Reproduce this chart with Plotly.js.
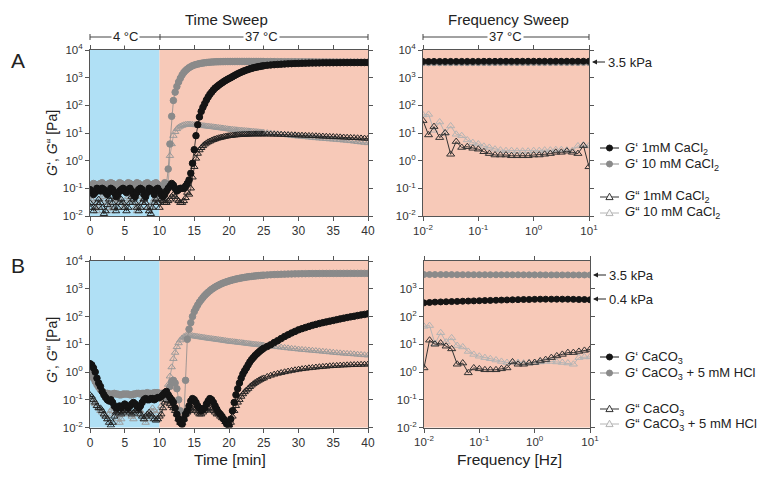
<!DOCTYPE html>
<html><head><meta charset="utf-8">
<script src="https://cdn.plot.ly/plotly-3.0.1.min.js"></script>
<style>html,body{margin:0;padding:0;background:#fff}#chart{width:771px;height:481px}</style>
</head><body><div id="chart"></div>
<script>
// ---------- DATA ----------
const timeMin = [0,0.25,0.5,0.75,1,1.25,1.5,1.75,2,2.25,2.5,2.75,3,3.25,3.5,3.75,4,4.25,4.5,4.75,5,5.25,5.5,5.75,6,6.25,6.5,6.75,7,7.25,7.5,7.75,8,8.25,8.5,8.75,9,9.25,9.5,9.75,10,
10.25,10.5,10.75,11,11.25,11.5,11.75,12,12.25,12.5,12.75,13,13.25,13.5,13.75,14,14.25,14.5,14.75,15,15.25,15.5,15.75,16,16.25,16.5,16.75,17,17.25,17.5,17.75,18,18.25,18.5,18.75,19,19.25,19.5,19.75,20,
20.25,20.5,20.75,21,21.25,21.5,21.75,22,22.25,22.5,22.75,23,23.25,23.5,23.75,24,24.25,24.5,24.75,25,
25.5,26,26.5,27,27.5,28,28.5,29,29.5,30,30.5,31,31.5,32,32.5,33,33.5,34,34.5,35,35.5,36,36.5,37,37.5,38,38.5,39,39.5,40];

// Panel A, time sweep
const A_Gp_1mM = [0.09,0.08,0.06,0.07,0.10,0.09,0.08,0.10,0.09,0.07, 0.06,0.08,0.10,0.09,0.07,0.05,0.06,0.08,0.09,0.10, 0.08,0.07,0.09,0.10,0.08,0.06,0.05,0.07,0.09,0.10, 0.09,0.06,0.05,0.07,0.10,0.09,0.08,0.06,0.09,0.10, 0.08,
0.06,0.05,0.06,0.08,0.10,0.12,0.15,0.13,0.10,0.08, 0.09,0.10,0.10,0.10,0.12,0.15,0.20,0.35,0.8,2.5, 8,20,38,60,85,115,155,200,250,300, 360,420,470,530,590,650,720,790,860,930,
1000,1090,1180,1280,1380,1480,1580,1680,1780,1880, 1980,2080,2170,2260,2340,2420,2490,2560,2630,2700,
2800,2880,2950,3010,3070,3120,3170,3210,3250,3280, 3310,3340,3360,3380,3400,3420,3440,3450,3460,3470, 3480,3490,3500,3500,3510,3510,3520,3520,3530,3530];
const A_Gp_10mM = [0.12,0.13,0.15,0.14,0.12,0.13,0.15,0.16,0.14,0.12, 0.13,0.15,0.16,0.15,0.13,0.12,0.14,0.16,0.15,0.13, 0.12,0.14,0.16,0.15,0.13,0.12,0.14,0.16,0.15,0.13, 0.12,0.13,0.15,0.16,0.14,0.12,0.13,0.15,0.16,0.14, 0.12,
0.10,0.12,0.16,0.14,0.5,4,40,150,300,480, 700,950,1250,1550,1800,2050,2300,2500,2700,2850, 2980,3100,3200,3300,3380,3450,3520,3580,3630,3670, 3700,3730,3750,3770,3790,3800,3810,3820,3830,3830,
3840,3840,3840,3850,3850,3850,3850,3850,3850,3850, 3850,3850,3840,3840,3840,3840,3830,3830,3830,3830,
3820,3820,3810,3800,3800,3790,3780,3780,3770,3760, 3750,3740,3740,3730,3720,3710,3700,3700,3690,3680, 3670,3660,3660,3650,3640,3640,3630,3620,3620,3610];
const A_Gpp_1mM = [0.03,0.02,0.015,0.02,0.03,0.04,0.03,0.02,0.012,0.015, 0.025,0.04,0.05,0.03,0.02,0.015,0.02,0.03,0.04,0.03, 0.02,0.015,0.02,0.03,0.05,0.04,0.03,0.02,0.015,0.02, 0.03,0.04,0.03,0.02,0.015,0.012,0.02,0.03,0.04,0.03, 0.02,
0.04,0.035,0.03,0.03,0.035,0.04,0.05,0.06,0.05,0.04, 0.035,0.03,0.03,0.035,0.045,0.07,0.06,0.1,0.25,0.6, 1.2,1.8,2.4,2.9,3.4,3.9,4.3,4.7,5.0,5.4, 5.7,6.0,6.3,6.6,6.8,7.0,7.3,7.5,7.7,7.9,
8.0,8.2,8.3,8.4,8.5,8.6,8.7,8.8,8.85,8.9, 8.95,9.0,9.05,9.1,9.1,9.1,9.1,9.1,9.1,9.05,
9.0,8.95,8.9,8.85,8.8,8.7,8.6,8.5,8.4,8.3, 8.2,8.1,8.0,7.9,7.8,7.7,7.6,7.5,7.4,7.3, 7.2,7.1,7.0,6.9,6.8,6.7,6.6,6.5,6.4,6.3];
const A_Gpp_10mM = [0.05,0.04,0.03,0.02,0.015,0.02,0.03,0.05,0.06,0.04, 0.03,0.02,0.015,0.02,0.03,0.04,0.05,0.04,0.03,0.02, 0.02,0.03,0.05,0.06,0.04,0.03,0.02,0.015,0.02,0.03, 0.05,0.04,0.03,0.02,0.015,0.02,0.03,0.04,0.05,0.04, 0.03,
0.04,0.035,0.03,0.035,0.15,1.5,4,8,11,14, 16,17.5,18.5,19.5,20,20.5,20.5,20.3,20,19.7, 19.4,19.1,18.8,18.5,18.2,17.9,17.6,17.3,17.0,16.7, 16.4,16.1,15.8,15.5,15.2,14.9,14.6,14.3,14.0,13.7,
13.5,13.3,13.1,12.9,12.7,12.5,12.35,12.2,12.05,11.9, 11.75,11.6,11.45,11.3,11.15,11.0,10.85,10.7,10.55,10.4,
10.1,9.8,9.5,9.2,8.9,8.6,8.3,8.05,7.8,7.55, 7.4,7.2,7.0,6.8,6.6,6.45,6.3,6.15,6.0,5.9, 5.75,5.6,5.45,5.3,5.15,5.0,4.8,4.65,4.5,4.35];

// Panel B, time sweep
const B_Gp_CaCO3 = [2.0,1.8,1.4,1.0,0.6,0.4,0.3,0.2,0.15,0.12, 0.10,0.09,0.10,0.08,0.06,0.05,0.05,0.06,0.05,0.06, 0.07,0.06,0.05,0.06,0.07,0.08,0.07,0.06,0.05,0.06, 0.08,0.10,0.11,0.10,0.10,0.11,0.11,0.10,0.11,0.12, 0.12,
0.13,0.15,0.18,0.20,0.15,0.12,0.10,0.08,0.05,0.03, 0.02,0.015,0.013,0.02,0.03,0.04,0.06,0.09,0.11,0.10, 0.08,0.06,0.05,0.04,0.045,0.05,0.07,0.09,0.11,0.10, 0.08,0.06,0.045,0.035,0.03,0.025,0.02,0.016,0.013,0.012,
0.02,0.04,0.08,0.15,0.25,0.4,0.6,0.85,1.1,1.4, 1.8,2.3,2.8,3.3,3.9,4.5,5.1,5.8,6.5,7.2,
8.3,9.6,11.5,13.5,16,19,22,25.5,29,33, 36.5,40,44,48,52,56,60,64,68,72, 77,82,87,92,97,102,108,114,119,125];
const B_Gp_HCl = [1.0,0.8,0.6,0.45,0.35,0.28,0.23,0.2,0.18,0.17, 0.17,0.16,0.16,0.16,0.17,0.16,0.16,0.15,0.15,0.16, 0.16,0.16,0.16,0.15,0.15,0.16,0.16,0.17,0.17,0.16, 0.17,0.17,0.17,0.18,0.17,0.17,0.17,0.18,0.18,0.18, 0.17,
0.17,0.15,0.13,0.12,0.15,0.3,0.45,0.5,0.4,0.25, 0.1,0.04,0.015,0.02,0.5,15,35,60,100,150, 200,260,330,400,480,570,660,750,850,950, 1050,1150,1250,1350,1450,1550,1640,1730,1820,1900,
1990,2070,2150,2230,2300,2370,2440,2510,2570,2630, 2690,2740,2790,2840,2890,2930,2970,3010,3050,3090,
3150,3200,3250,3290,3330,3360,3390,3420,3440,3460, 3480,3500,3510,3520,3530,3540,3550,3550,3560,3560, 3570,3570,3570,3580,3580,3580,3580,3580,3580,3580];
const B_Gpp_CaCO3 = [0.15,0.13,0.10,0.08,0.06,0.05,0.05,0.04,0.03,0.025, 0.02,0.015,0.012,0.015,0.025,0.035,0.04,0.035,0.03,0.035, 0.04,0.045,0.04,0.035,0.03,0.035,0.04,0.045,0.04,0.03, 0.025,0.02,0.025,0.03,0.035,0.03,0.025,0.02,0.018,0.02, 0.025,
0.03,0.05,0.08,0.10,0.09,0.07,0.06,0.05,0.04,0.03, 0.02,0.015,0.015,0.02,0.03,0.035,0.04,0.05,0.05,0.045, 0.04,0.035,0.03,0.03,0.035,0.04,0.045,0.05,0.05,0.045, 0.04,0.035,0.03,0.03,0.025,0.022,0.02,0.016,0.013,0.012,
0.015,0.025,0.04,0.06,0.08,0.1,0.13,0.16,0.19,0.22, 0.25,0.29,0.33,0.37,0.41,0.45,0.49,0.53,0.57,0.6,
0.68,0.75,0.82,0.88,0.94,1.0,1.06,1.12,1.18,1.24, 1.29,1.34,1.39,1.43,1.48,1.52,1.56,1.6,1.64,1.67, 1.7,1.73,1.76,1.78,1.8,1.82,1.84,1.86,1.88,1.9];
const B_Gpp_HCl = [0.12,0.10,0.08,0.07,0.06,0.05,0.04,0.035,0.03,0.025, 0.02,0.03,0.04,0.05,0.04,0.03,0.02,0.015,0.02,0.03, 0.04,0.05,0.04,0.03,0.025,0.02,0.03,0.04,0.05,0.04, 0.03,0.02,0.015,0.02,0.03,0.04,0.05,0.04,0.03,0.02, 0.04,
0.06,0.1,0.15,0.2,0.35,0.7,1.5,3,5,8, 11,14,16.5,18.5,20,21,21,20.5,20,19.5, 19.1,18.7,18.3,17.9,17.5,17.1,16.7,16.3,16,15.7, 15.4,15.1,14.8,14.5,14.2,13.9,13.6,13.3,13,12.7,
12.5,12.3,12.1,11.9,11.7,11.5,11.3,11.1,10.9,10.7, 10.5,10.3,10.1,9.95,9.8,9.65,9.5,9.35,9.2,9.05,
8.8,8.5,8.25,8.0,7.75,7.5,7.25,7.0,6.8,6.6, 6.4,6.25,6.1,5.95,5.8,5.65,5.5,5.35,5.2,5.05, 4.9,4.8,4.7,4.6,4.5,4.4,4.3,4.2,4.1,4.0];

// Frequency sweeps
const freqHz = [0.01,0.0126,0.0158,0.02,0.0251,0.0316,0.0398,0.0501,0.0631,0.0794,0.1,0.126,0.158,0.2,0.251,0.316,0.398,0.501,0.631,0.794,1,1.26,1.58,2,2.51,3.16,3.98,5.01,6.31,7.94,10];
const FA_Gp_1mM = [3850,3850,3860,3860,3870,3870,3870,3880,3880,3880, 3880,3890,3890,3890,3900,3900,3900,3900,3900,3910, 3910,3910,3910,3910,3920,3920,3920,3920,3920,3920, 3920];
const FA_Gp_10mM = [3450,3460,3460,3470,3470,3470,3480,3480,3480,3480, 3490,3490,3490,3490,3500,3500,3500,3500,3500,3500, 3500,3500,3500,3510,3510,3510,3510,3510,3510,3510, 3510];
const FA_Gpp_1mM = [28,8.5,17,6.8,10,1.7,4.9,3,3.2,2.8, 2.6,2.1,1.8,1.6,1.6,1.6,1.5,1.5,1.5,1.5, 1.6,1.6,1.7,1.8,2.0,2.0,2.2,2.0,1.8,3.5, 0.6];
const FA_Gpp_10mM = [45,47,12.5,25,10,18,9,8,5.6,4.5, 4,3.3,3,2.6,2.4,2.3,2.3,2.2,2.2,2.2, 2.3,2.3,2.4,2.4,2.5,2.5,2.4,2.3,3.4,3.7, 3.4];
const FB_Gp_CaCO3 = [310,320,330,335,340,345,350,355,360,365, 370,375,380,385,390,395,400,405,410,410, 415,420,420,420,420,420,420,415,410,410, 400];
const FB_Gp_HCl = [3250,3250,3240,3240,3230,3230,3220,3220,3210,3210, 3200,3200,3200,3190,3190,3190,3180,3180,3180,3170, 3170,3170,3160,3160,3160,3150,3150,3150,3140,3140, 3140];
const FB_Gpp_CaCO3 = [1.4,14,10,11,8.5,6.8,1.9,2.1,0.93,1.4, 1.3,1.2,1.2,1.2,1.3,1.4,2.3,1.9,1.9,2.1, 2.2,2.5,2.8,3.3,3.8,4.3,5.0,5.0,5.5,6.0, 6.5];
const FB_Gpp_HCl = [44,47,10.5,26,12,17,9,8,5.5,4.3, 3.7,3.3,3,2.7,2.4,2.2,2.3,2.2,2.1,2.1, 2.2,2.3,2.4,2.4,2.3,2.2,2.1,1.9,3.3,3.5, 3.5];

const namesA = ['<i>G</i>‘ 1mM CaCl<sub>2</sub>','<i>G</i>‘ 10 mM CaCl<sub>2</sub>','<i>G</i>“ 1mM CaCl<sub>2</sub>','<i>G</i>“ 10 mM CaCl<sub>2</sub>'];
const namesB = ['<i>G</i>‘ CaCO<sub>3</sub>','<i>G</i>‘ CaCO<sub>3</sub> + 5 mM HCl','<i>G</i>“ CaCO<sub>3</sub>','<i>G</i>“ CaCO<sub>3</sub> + 5 mM HCl'];
const yTickVals = [0.01,0.1,1,10,100,1000,10000];
const yTickText = ['10<sup>-2</sup>','10<sup>-1</sup>','10<sup>0</sup>','10<sup>1</sup>','10<sup>2</sup>','10<sup>3</sup>','10<sup>4</sup>'];
const fTickVals = [0.01,0.1,1,10];
const fTickText = ['10<sup>-2</sup>','10<sup>-1</sup>','10<sup>0</sup>','10<sup>1</sup>'];
const tTickVals = [0,5,10,15,20,25,30,35,40];

// ---------- STYLE / LAYOUT ----------
const W = 771, H = 481;
const fx = p => p / W, fy = p => 1 - p / H;
const BLACK = '#141414', GRAY = '#8a8a8a', LGRAY = '#b4b4b4', TGRAY = '#9a9a9a', DTRI = '#222';
const BLUE = '#b0e0f5', SALMON = '#f7c9b8';
const FONT = 'Arial, "Liberation Sans", sans-serif';

function tsTrace(x, y, xa, ya, color, sym, size) {
  return {x, y, xaxis: xa, yaxis: ya, type: 'scatter', mode: 'lines+markers', showlegend: false,
    line: {color, width: 0.8},
    marker: {symbol: sym, size, color, line: {color, width: 1}}, hoverinfo: 'skip'};
}
function fsTrace(x, y, xa, ya, color, sym, size) {
  return {x, y, xaxis: xa, yaxis: ya, type: 'scatter', mode: 'lines+markers', showlegend: false,
    line: {color, width: 1},
    marker: {symbol: sym, size, color, line: {color, width: 1}}, hoverinfo: 'skip'};
}

const data = [
  tsTrace(timeMin, A_Gpp_10mM, 'x', 'y', TGRAY, 'triangle-up-open', 6.5),
  tsTrace(timeMin, A_Gpp_1mM, 'x', 'y', DTRI, 'triangle-up-open', 6.5),
  tsTrace(timeMin, A_Gp_10mM, 'x', 'y', GRAY, 'circle', 6.5),
  tsTrace(timeMin, A_Gp_1mM, 'x', 'y', BLACK, 'circle', 6.5),

  tsTrace(timeMin, B_Gpp_HCl, 'x3', 'y3', TGRAY, 'triangle-up-open', 6.5),
  tsTrace(timeMin, B_Gpp_CaCO3, 'x3', 'y3', DTRI, 'triangle-up-open', 6.5),
  tsTrace(timeMin, B_Gp_HCl, 'x3', 'y3', GRAY, 'circle', 6.5),
  tsTrace(timeMin, B_Gp_CaCO3, 'x3', 'y3', BLACK, 'circle', 6.5),

  fsTrace(freqHz, FA_Gpp_10mM, 'x2', 'y2', LGRAY, 'triangle-up-open', 7),
  fsTrace(freqHz, FA_Gpp_1mM, 'x2', 'y2', '#333', 'triangle-up-open', 7),
  fsTrace(freqHz, FA_Gp_10mM, 'x2', 'y2', GRAY, 'circle', 6),
  fsTrace(freqHz, FA_Gp_1mM, 'x2', 'y2', BLACK, 'circle', 6),

  fsTrace(freqHz, FB_Gpp_HCl, 'x4', 'y4', LGRAY, 'triangle-up-open', 7),
  fsTrace(freqHz, FB_Gpp_CaCO3, 'x4', 'y4', '#333', 'triangle-up-open', 7),
  fsTrace(freqHz, FB_Gp_HCl, 'x4', 'y4', GRAY, 'circle', 6),
  fsTrace(freqHz, FB_Gp_CaCO3, 'x4', 'y4', BLACK, 'circle', 6),
];

const axBase = {showline: true, linecolor: '#555', linewidth: 1, mirror: 'ticks', ticks: 'outside',
  ticklen: 4, tickcolor: '#555', showgrid: false, zeroline: false,
  tickfont: {family: FONT, size: 12, color: '#333'}};
const yAx = (anchor, dom, vals, txt) => Object.assign({}, axBase, {type: 'log', range: [-2, 4], domain: dom,
  anchor, tickvals: vals || yTickVals, ticktext: txt || yTickText, tickfont: {family: FONT, size: 11.5, color: '#333'}});
const tAx = (anchor, dom) => Object.assign({}, axBase, {range: [0, 40], domain: dom, anchor, tickvals: tTickVals});
const fAx = (anchor, dom) => Object.assign({}, axBase, {type: 'log', range: [-2, 1], domain: dom, anchor,
  tickvals: fTickVals, ticktext: fTickText, tickfont: {family: FONT, size: 11.5, color: '#333'}});

const domTX = [fx(90), fx(368)], domFXA = [fx(423), fx(589)], domFXB = [fx(424), fx(590)];
const domYA = [fy(216), fy(50)], domYB = [fy(427.5), fy(261)];

const lineShape = (x0, y0, x1, y1, color, width) => ({type: 'line', xref: 'paper', yref: 'paper',
  x0: fx(x0), y0: fy(y0), x1: fx(x1), y1: fy(y1), line: {color: color || '#444', width: width || 1}});
const shapes = [
  {type: 'rect', xref: 'x', yref: 'y domain', x0: 0, x1: 10, y0: 0, y1: 1, fillcolor: BLUE, line: {width: 0}, layer: 'below'},
  {type: 'rect', xref: 'x', yref: 'y domain', x0: 10, x1: 40, y0: 0, y1: 1, fillcolor: SALMON, line: {width: 0}, layer: 'below'},
  {type: 'rect', xref: 'x3', yref: 'y3 domain', x0: 0, x1: 10, y0: 0, y1: 1, fillcolor: BLUE, line: {width: 0}, layer: 'below'},
  {type: 'rect', xref: 'x3', yref: 'y3 domain', x0: 10, x1: 40, y0: 0, y1: 1, fillcolor: SALMON, line: {width: 0}, layer: 'below'},
  {type: 'rect', xref: 'x2 domain', yref: 'y2 domain', x0: 0, x1: 1, y0: 0, y1: 1, fillcolor: SALMON, line: {width: 0}, layer: 'below'},
  {type: 'rect', xref: 'x4 domain', yref: 'y4 domain', x0: 0, x1: 1, y0: 0, y1: 1, fillcolor: SALMON, line: {width: 0}, layer: 'below'},
  // temperature bars
  lineShape(90, 37, 368, 37), lineShape(90, 34, 90, 40), lineShape(160, 34, 160, 40), lineShape(368, 34, 368, 40),
  lineShape(423, 37, 589, 37), lineShape(423, 34, 423, 40), lineShape(589, 34, 589, 40),
];

const ann = (text, x, y, size, extra) => Object.assign({text, x: fx(x), y: fy(y), xref: 'paper', yref: 'paper',
  showarrow: false, xanchor: 'center', yanchor: 'middle', font: {family: FONT, size, color: '#222'}}, extra || {});
const kpa = (text, xTip, y) => ({text, x: fx(xTip), y: fy(y), xref: 'paper', yref: 'paper', showarrow: true,
  ax: 14, ay: 0, xanchor: 'left', yanchor: 'middle', arrowhead: 2, arrowsize: 1, arrowwidth: 1, arrowcolor: '#222',
  standoff: 0, startstandoff: 1, font: {family: FONT, size: 13, color: '#222'}});

const annotations = [
  ann('Time Sweep', 226, 19, 15),
  ann('Frequency Sweep', 508, 19, 15),
  ann('4 °C', 125, 37, 13, {bgcolor: '#fff', borderpad: 1}),
  ann('37 °C', 261, 37, 13, {bgcolor: '#fff', borderpad: 1}),
  ann('37 °C', 505, 37, 13, {bgcolor: '#fff', borderpad: 1}),
  ann('A', 18, 60, 21),
  ann('B', 18, 265, 21),
  ann('<i>G</i>‘, <i>G</i>“ [Pa]', 52, 143, 14, {textangle: -90}),
  ann('<i>G</i>‘, <i>G</i>“ [Pa]', 52, 350, 14, {textangle: -90}),
  ann('Time [min]', 230, 459, 15.5),
  ann('Frequency [Hz]', 509, 459, 15.5),
  kpa('3.5 kPa', 592, 62),
  kpa('3.5 kPa', 593, 275),
  kpa('0.4 kPa', 593, 299),
];

// ---------- manual legends ----------
function legendEntry(yPx, color, kind, label) {
  const x0 = 600, x1 = 619, cx = 609.5;
  shapes.push(lineShape(x0, yPx, x1, yPx, color, 1));
  if (kind === 'circle') {
    shapes.push({type: 'circle', xref: 'paper', yref: 'paper', x0: fx(cx - 3), x1: fx(cx + 3),
      y0: fy(yPx + 3), y1: fy(yPx - 3), fillcolor: color, line: {color, width: 1}});
  } else {
    const p = (x, y) => fx(x) + ',' + fy(y);
    shapes.push({type: 'path', xref: 'paper', yref: 'paper',
      path: 'M' + p(cx - 3.6, yPx + 2.6) + ' L' + p(cx + 3.6, yPx + 2.6) + ' L' + p(cx, yPx - 3.8) + ' Z',
      fillcolor: '#f7f7f7', line: {color, width: 1}});
  }
  annotations.push(ann(label, 623, yPx, 13, {xanchor: 'left'}));
}
const legAY = [148, 164, 197, 213], legBY = [357, 373, 409, 424];
const legColors = [BLACK, GRAY, '#333', LGRAY], legKinds = ['circle', 'circle', 'tri', 'tri'];
for (let i = 0; i < 4; i++) {
  legendEntry(legAY[i], legColors[i], legKinds[i], namesA[i]);
  legendEntry(legBY[i], legColors[i], legKinds[i], namesB[i]);
}

const layout = {
  width: W, height: H, margin: {l: 0, r: 0, t: 0, b: 0}, paper_bgcolor: '#fff', plot_bgcolor: 'rgba(0,0,0,0)',
  font: {family: FONT}, showlegend: false,
  xaxis: tAx('y', domTX), yaxis: yAx('x', domYA),
  xaxis2: fAx('y2', domFXA), yaxis2: yAx('x2', domYA),
  xaxis3: tAx('y3', domTX), yaxis3: yAx('x3', domYB),
  xaxis4: fAx('y4', domFXB), yaxis4: yAx('x4', domYB, yTickVals.slice(0, 6), yTickText.slice(0, 6)),
  shapes, annotations,
};

Plotly.newPlot('chart', data, layout, {staticPlot: true, displayModeBar: false});
</script></body></html>
